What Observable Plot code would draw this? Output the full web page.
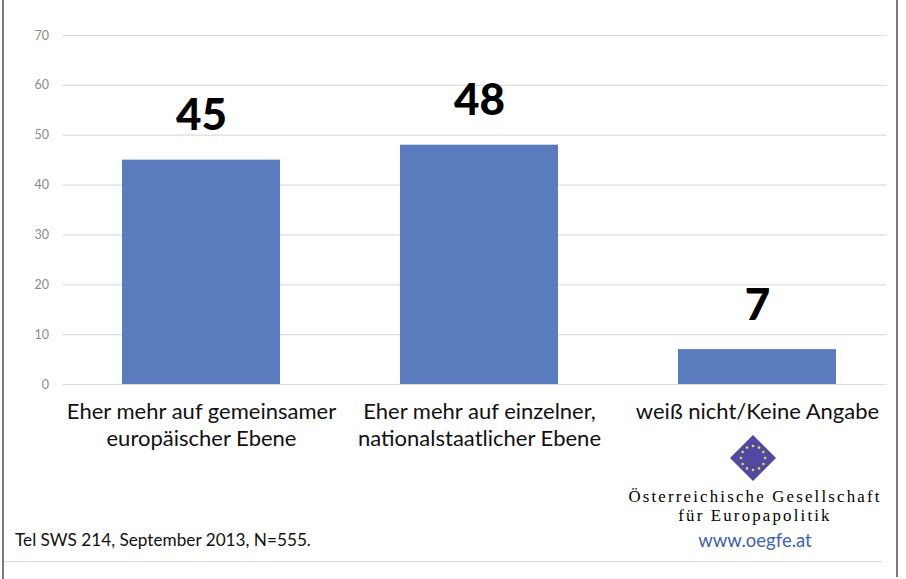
<!DOCTYPE html>
<html>
<head>
<meta charset="utf-8">
<script src="https://cdn.jsdelivr.net/npm/d3@7"></script>
<script src="https://cdn.jsdelivr.net/npm/@observablehq/plot@0.6"></script>
<style>
  html, body { margin: 0; padding: 0; background: #fff; }
  #wrap { position: relative; width: 906px; height: 579px; overflow: hidden; font-family: Lato, "Open Sans", sans-serif; }
  #chart { position: absolute; left: 0; top: 0; }
  .abs { position: absolute; white-space: nowrap; }
</style>
</head>
<body>
<div id="wrap">
  <div id="chart"></div>
  <div class="abs" style="left:2px;top:0;width:2px;height:579px;background:#7a7a7a;"></div>
  <div class="abs" style="left:896px;top:0;width:2px;height:577px;background:#7a7a7a;"></div>
  <div class="abs" style="left:4px;top:561px;width:878px;height:1px;background:#d8d8d8;"></div>
  <div id="caption" class="abs" style="left:15px;top:529px;font-size:17.2px;color:#111;"></div>
  <svg class="abs" style="left:729px;top:434px;" width="48" height="48" viewBox="-24 -24 48 48">
    <polygon points="0,-23 23,0 0,23 -23,0" fill="#4f4a9f"/>
    <g id="stars"></g>
  </svg>
  <div id="org1" class="abs" style="left:555px;width:400px;top:487px;text-align:center;font-family:'Liberation Serif',serif;font-size:16.8px;letter-spacing:2.2px;color:#000;"></div>
  <div id="org2" class="abs" style="left:555px;width:400px;top:506px;text-align:center;font-family:'Liberation Serif',serif;font-size:16.8px;letter-spacing:2.2px;color:#000;"></div>
  <div id="org3" class="abs" style="left:555px;width:400px;top:529px;text-align:center;font-size:18.5px;color:#3b63b0;"></div>
</div>
<script>
const categories = [
  "Eher mehr auf gemeinsamer\neuropäischer Ebene",
  "Eher mehr auf einzelner,\nnationalstaatlicher Ebene",
  "weiß nicht/Keine Angabe"
];
const values = [45, 48, 7];
const yTicks = [0, 10, 20, 30, 40, 50, 60, 70];
const captionText = "Tel SWS 214, September 2013, N=555.";
const orgLines = ["Österreichische Gesellschaft", "für Europapolitik", "www.oegfe.at"];

const data = categories.map((c, i) => ({cat: c, value: values[i]}));

const chart = Plot.plot({
  width: 906,
  height: 579,
  marginTop: 35,
  marginBottom: 195,
  marginLeft: 62.5,
  marginRight: 9.5,
  style: {fontFamily: "Lato, 'Open Sans', sans-serif", background: "transparent"},
  x: {domain: categories, paddingInner: 0.43, paddingOuter: 0.215, label: null},
  y: {domain: [0, 70], label: null},
  marks: [
    Plot.ruleY(yTicks, {stroke: "#dcdcdc", strokeWidth: 1.2, insetRight: 10}),
    Plot.axisY(yTicks, {tickSize: 0, tickPadding: 14, fontSize: 12.5, color: "#8a8a8a", label: null}),
    Plot.barY(data, {x: "cat", y: "value", fill: "#5b7bbf"}),
    Plot.text(data, {x: "cat", y: "value", text: d => String(d.value), dy: -44, fontSize: 44, fontWeight: 900, fill: "#000"}),
    Plot.axisX({tickSize: 0, tickPadding: 16, fontSize: 22, lineHeight: 1.2, color: "#111", label: null})
  ]
});
document.getElementById("chart").appendChild(chart);

document.getElementById("caption").textContent = captionText;
document.getElementById("org1").textContent = orgLines[0];
document.getElementById("org2").textContent = orgLines[1];
document.getElementById("org3").textContent = orgLines[2];

const g = document.getElementById("stars");
for (let i = 0; i < 12; i++) {
  const a = i * Math.PI / 6;
  const c = document.createElementNS("http://www.w3.org/2000/svg", "circle");
  c.setAttribute("cx", (12 * Math.cos(a)).toFixed(2));
  c.setAttribute("cy", (12 * Math.sin(a)).toFixed(2));
  c.setAttribute("r", "1.3");
  c.setAttribute("fill", "#e6d45a");
  g.appendChild(c);
}
</script>
</body>
</html>
